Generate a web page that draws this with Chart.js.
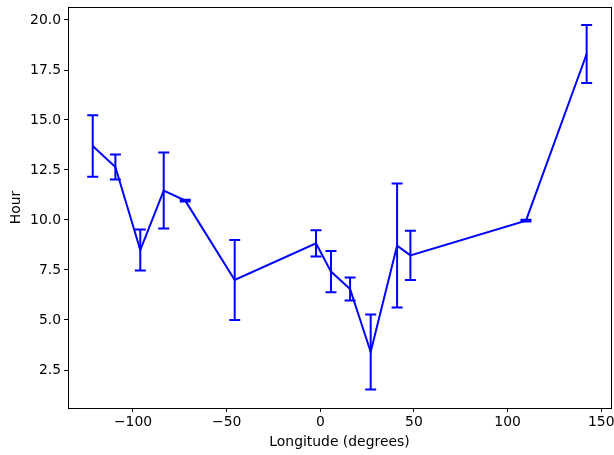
<!DOCTYPE html>
<html>
<head>
<meta charset="utf-8">
<script src="https://cdn.jsdelivr.net/npm/chart.js@4"></script>
<style>
    html, body { margin: 0; padding: 0; background: #fff; }
    #wrap { width: 614px; height: 455px; }
</style>
</head>
<body>
<div id="wrap"><canvas id="chart" width="614" height="455"></canvas></div>
<script>
// Longitude (degrees), hour and error for each station
const longitudes = [-121.5, -109.4, -96.1, -83.6, -72.1, -45.7, -2.3, 5.7, 15.9, 26.9, 41.0, 48.1, 109.8, 142.2];
const hours      = [13.7, 12.65, 8.5, 11.47, 10.97, 7.0, 8.83, 7.42, 6.55, 3.4, 8.72, 8.23, 9.97, 18.3];
const errors     = [1.54, 0.62, 1.03, 1.9, 0.04, 2.0, 0.66, 1.03, 0.57, 1.88, 3.1, 1.23, 0.04, 1.45];

const xTicks = [-100, -50, 0, 50, 100, 150];
const yTicks = [2.5, 5.0, 7.5, 10.0, 12.5, 15.0, 17.5, 20.0];

const FONT = { family: 'DejaVu Sans', size: 13.9 };
const BLUE = '#0000ff';

// Draws vertical error bars with caps, plus the axes frame
const errorBarPlugin = {
    id: 'errorBars',
    afterDatasetsDraw(chart) {
        const ctx = chart.ctx;
        const xs = chart.scales.x;
        const ys = chart.scales.y;
        ctx.save();
        ctx.strokeStyle = BLUE;
        ctx.lineWidth = 2;
        longitudes.forEach((lon, i) => {
            const px = xs.getPixelForValue(lon);
            const top = ys.getPixelForValue(hours[i] + errors[i]);
            const bot = ys.getPixelForValue(hours[i] - errors[i]);
            ctx.beginPath();
            ctx.moveTo(px, top);
            ctx.lineTo(px, bot);
            ctx.moveTo(px - 5.5, top);
            ctx.lineTo(px + 5.5, top);
            ctx.moveTo(px - 5.5, bot);
            ctx.lineTo(px + 5.5, bot);
            ctx.stroke();
        });
        ctx.restore();

        const a = chart.chartArea;
        ctx.save();
        ctx.strokeStyle = '#000';
        ctx.lineWidth = 1;
        ctx.strokeRect(Math.round(a.left) + 0.5, Math.round(a.top) + 0.5,
            Math.round(a.right - a.left), Math.round(a.bottom - a.top));
        ctx.restore();
    }
};

new Chart(document.getElementById('chart').getContext('2d'), {
    type: 'scatter',
    data: {
        datasets: [{
            data: longitudes.map((lon, i) => ({ x: lon, y: hours[i] })),
            showLine: true,
            borderColor: BLUE,
            backgroundColor: BLUE,
            borderWidth: 2,
            pointRadius: 0,
            tension: 0
        }]
    },
    options: {
        responsive: false,
        animation: false,
        layout: { padding: 0 },
        plugins: {
            legend: { display: false },
            tooltip: { enabled: false }
        },
        scales: {
            x: {
                type: 'linear',
                min: -134.7,
                max: 155.2,
                afterBuildTicks: (axis) => { axis.ticks = xTicks.map(v => ({ value: v })); },
                afterFit: (axis) => { axis.height = 47; axis.paddingRight = 3; axis.paddingLeft = 0; },
                grid: { drawOnChartArea: false, drawTicks: true, tickLength: 4, color: '#000' },
                border: { display: false },
                ticks: {
                    color: '#000',
                    font: FONT,
                    padding: 2,
                    maxRotation: 0,
                    callback: (v) => String(v).replace('-', '\u2212')
                },
                title: { display: true, text: 'Longitude (degrees)', color: '#000', font: FONT, padding: { top: 0, bottom: 4 } }
            },
            y: {
                type: 'linear',
                min: 0.6,
                max: 20.65,
                afterBuildTicks: (axis) => { axis.ticks = yTicks.map(v => ({ value: v })); },
                afterFit: (axis) => { axis.width = 68; axis.paddingTop = 7; axis.paddingBottom = 0; },
                grid: { drawOnChartArea: false, drawTicks: true, tickLength: 4, color: '#000' },
                border: { display: false },
                ticks: {
                    color: '#000',
                    font: FONT,
                    padding: 3,
                    callback: (v) => Number(v).toFixed(1)
                },
                title: { display: true, text: 'Hour', color: '#000', font: FONT, padding: { top: 8, bottom: 2 } }
            }
        }
    },
    plugins: [errorBarPlugin]
});
</script>
</body>
</html>
